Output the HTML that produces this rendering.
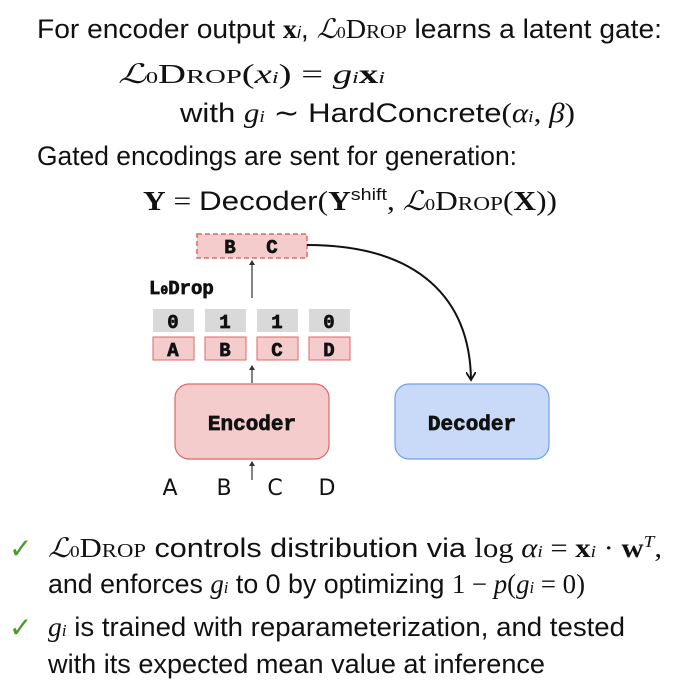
<!DOCTYPE html>
<html><head><meta charset="utf-8"><style>
html,body{margin:0;padding:0;background:#fff;}
svg{display:block;}
.t{font-family:"Liberation Sans",sans-serif;font-size:27px;fill:#111;}
.m{font-family:"Liberation Serif",serif;font-size:27px;fill:#111;}
.mono{font-family:"Liberation Mono",monospace;font-weight:bold;fill:#111;stroke:#111;stroke-width:0.7;}
</style></head><body>
<svg width="683" height="689" viewBox="0 0 683 689" xmlns="http://www.w3.org/2000/svg">
<defs>
<marker id="ah" markerWidth="10" markerHeight="10" refX="8" refY="5" orient="auto" markerUnits="userSpaceOnUse">
<path d="M0,0 L8,5 L0,10" fill="none" stroke="#111" stroke-width="1.8"/></marker>
<marker id="sa" markerWidth="6" markerHeight="6" refX="3" refY="1" orient="0" markerUnits="userSpaceOnUse">
<path d="M0,5 L3,0 L6,5" fill="#333" stroke="none"/></marker>
</defs>
<text class="t" x="37" y="38" textLength="625" lengthAdjust="spacingAndGlyphs">For encoder output <tspan font-weight="bold" font-family="Liberation Serif">x</tspan><tspan font-style="italic" font-size="17">i</tspan>, <tspan font-family="Liberation Serif" font-style="italic">ℒ</tspan><tspan font-size="17" font-family="Liberation Serif">0</tspan><tspan font-family="Liberation Serif">D<tspan font-size="20">ROP</tspan></tspan> learns a latent gate:</text>
<text class="m" x="118" y="83" textLength="267" lengthAdjust="spacingAndGlyphs"><tspan font-style="italic">ℒ</tspan><tspan font-size="17">0</tspan>D<tspan font-size="20">ROP</tspan>(<tspan font-style="italic">x</tspan><tspan font-size="17" font-style="italic">i</tspan>) = <tspan font-style="italic">g</tspan><tspan font-size="17" font-style="italic">i</tspan><tspan font-weight="bold">x</tspan><tspan font-size="17" font-style="italic">i</tspan></text>
<text class="t" x="180" y="122" textLength="395" lengthAdjust="spacingAndGlyphs">with   <tspan font-family="Liberation Serif" font-style="italic">g</tspan><tspan font-size="17" font-style="italic" font-family="Liberation Serif">i</tspan> <tspan font-family="Liberation Serif">∼</tspan>  HardConcrete<tspan font-family="Liberation Serif">(<tspan font-style="italic">α</tspan><tspan font-size="17" font-style="italic">i</tspan>, <tspan font-style="italic">β</tspan>)</tspan></text>
<text class="t" x="37" y="165" textLength="480" lengthAdjust="spacingAndGlyphs">Gated encodings are sent for generation:</text>
<text class="m" x="143" y="210" textLength="414" lengthAdjust="spacingAndGlyphs"><tspan font-weight="bold">Y</tspan> = <tspan font-family="Liberation Sans">Decoder</tspan>(<tspan font-weight="bold">Y</tspan><tspan font-family="Liberation Sans" font-size="17" dy="-10">shift</tspan><tspan dy="10">, </tspan><tspan font-style="italic">ℒ</tspan><tspan font-size="17">0</tspan>D<tspan font-size="20">ROP</tspan>(<tspan font-weight="bold">X</tspan>))</text>

<!-- diagram -->
<rect x="197" y="234" width="110" height="24" fill="#f4cccc" stroke="#e06666" stroke-width="1.5" stroke-dasharray="5,3"/>
<text class="mono" x="230" y="253" font-size="19" text-anchor="middle">B</text>
<text class="mono" x="272" y="253" font-size="19" text-anchor="middle">C</text>
<path d="M307,245 C420,245 470,300 471,380" fill="none" stroke="#111" stroke-width="2" marker-end="url(#ah)"/>
<line x1="252" y1="298" x2="252" y2="261" stroke="#333" stroke-width="1.2" marker-end="url(#sa)"/>
<text class="mono" x="149" y="294" font-size="19">L<tspan font-size="13">0</tspan>Drop</text>
<g font-size="19">
<rect x="153" y="309" width="41" height="23" fill="#d9d9d9"/><text class="mono" x="173" y="328" text-anchor="middle">0</text>
<rect x="205" y="309" width="41" height="23" fill="#d9d9d9"/><text class="mono" x="225" y="328" text-anchor="middle">1</text>
<rect x="257" y="309" width="41" height="23" fill="#d9d9d9"/><text class="mono" x="277" y="328" text-anchor="middle">1</text>
<rect x="309" y="309" width="41" height="23" fill="#d9d9d9"/><text class="mono" x="329" y="328" text-anchor="middle">0</text>
<rect x="153" y="337" width="41" height="23" fill="#f4cccc" stroke="#e06666"/><text class="mono" x="173" y="356" text-anchor="middle">A</text>
<rect x="205" y="337" width="41" height="23" fill="#f4cccc" stroke="#e06666"/><text class="mono" x="225" y="356" text-anchor="middle">B</text>
<rect x="257" y="337" width="41" height="23" fill="#f4cccc" stroke="#e06666"/><text class="mono" x="277" y="356" text-anchor="middle">C</text>
<rect x="309" y="337" width="41" height="23" fill="#f4cccc" stroke="#e06666"/><text class="mono" x="329" y="356" text-anchor="middle">D</text>
</g>
<line x1="252" y1="383" x2="252" y2="366" stroke="#333" stroke-width="1.2" marker-end="url(#sa)"/>
<rect x="175" y="384" width="154" height="75" rx="14" fill="#f4cccc" stroke="#e06666" stroke-width="1.2"/>
<text class="mono" x="252" y="430" font-size="21" text-anchor="middle">Encoder</text>
<rect x="395" y="384" width="154" height="75" rx="14" fill="#c9daf8" stroke="#6d9eeb" stroke-width="1.2"/>
<text class="mono" x="472" y="430" font-size="21" text-anchor="middle">Decoder</text>
<line x1="252" y1="480" x2="252" y2="462" stroke="#333" stroke-width="1.2" marker-end="url(#sa)"/>
<g font-family="'DejaVu Sans',sans-serif" font-size="22" fill="#111" text-anchor="middle">
<text x="170" y="495">A</text><text x="224" y="495">B</text><text x="275" y="495">C</text><text x="327" y="495">D</text>
</g>

<!-- bullets -->
<g font-family="'DejaVu Sans',sans-serif" font-size="28" font-weight="bold" fill="#4a9a2a">
<text x="9" y="558">✓</text><text x="9" y="637">✓</text></g>
<text class="t" x="48" y="557" textLength="614" lengthAdjust="spacingAndGlyphs"><tspan font-family="Liberation Serif" font-style="italic">ℒ</tspan><tspan font-size="17" font-family="Liberation Serif">0</tspan><tspan font-family="Liberation Serif">D<tspan font-size="20">ROP</tspan></tspan> controls distribution via <tspan font-family="Liberation Serif">log <tspan font-style="italic">α</tspan><tspan font-size="17" font-style="italic">i</tspan> = <tspan font-weight="bold">x</tspan><tspan font-size="17" font-style="italic">i</tspan> · <tspan font-weight="bold">w</tspan><tspan font-size="17" font-style="italic" dy="-10">T</tspan><tspan dy="10">,</tspan></tspan></text>
<text class="t" x="48" y="593" textLength="537" lengthAdjust="spacingAndGlyphs">and enforces <tspan font-family="Liberation Serif" font-style="italic">g</tspan><tspan font-size="17" font-style="italic" font-family="Liberation Serif">i</tspan> to 0 by optimizing <tspan font-family="Liberation Serif">1 − <tspan font-style="italic">p</tspan>(<tspan font-style="italic">g</tspan><tspan font-size="17" font-style="italic">i</tspan> = 0)</tspan></text>
<text class="t" x="48" y="636" textLength="577" lengthAdjust="spacingAndGlyphs"><tspan font-family="Liberation Serif" font-style="italic">g</tspan><tspan font-size="17" font-style="italic" font-family="Liberation Serif">i</tspan> is trained with reparameterization, and tested</text>
<text class="t" x="48" y="673" textLength="497" lengthAdjust="spacingAndGlyphs">with its expected mean value at inference</text>
</svg>
</body></html>
